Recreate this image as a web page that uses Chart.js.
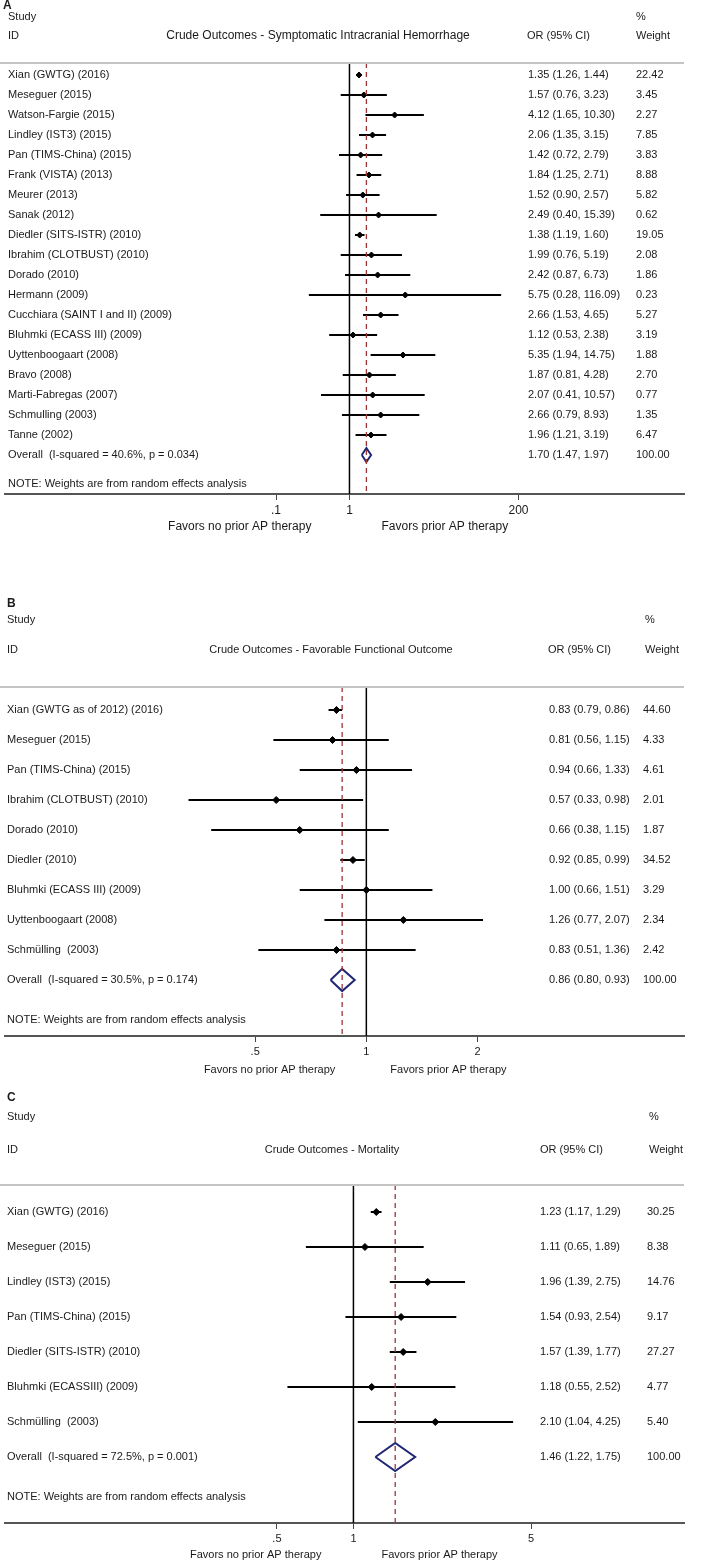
<!DOCTYPE html>
<html>
<head>
<meta charset="utf-8">
<script src="https://cdn.jsdelivr.net/npm/chart.js@4.4.1/dist/chart.umd.min.js"></script>
<style>
  body { margin: 0; background: #fff; }
  #wrap { position: relative; width: 709px; height: 1560px; }
  canvas { position: absolute; left: 0; }
</style>
</head>
<body>
<div id="wrap">
  <canvas id="chartA" width="709" height="590" style="top:0px"></canvas>
  <canvas id="chartB" width="709" height="490" style="top:590px"></canvas>
  <canvas id="chartC" width="709" height="480" style="top:1080px"></canvas>
</div>
<script>
// ---- panel A: symptomatic intracranial hemorrhage
const studiesA = ['Xian (GWTG) (2016)', 'Meseguer (2015)', 'Watson-Fargie (2015)', 'Lindley (IST3) (2015)',
  'Pan (TIMS-China) (2015)', 'Frank (VISTA) (2013)', 'Meurer (2013)', 'Sanak (2012)', 'Diedler (SITS-ISTR) (2010)',
  'Ibrahim (CLOTBUST) (2010)', 'Dorado (2010)', 'Hermann (2009)', 'Cucchiara (SAINT I and II) (2009)',
  'Bluhmki (ECASS III) (2009)', 'Uyttenboogaart (2008)', 'Bravo (2008)', 'Marti-Fabregas (2007)',
  'Schmulling (2003)', 'Tanne (2002)'];
const orA = [1.35, 1.57, 4.12, 2.06, 1.42, 1.84, 1.52, 2.49, 1.38, 1.99, 2.42, 5.75, 2.66, 1.12, 5.35, 1.87, 2.07, 2.66, 1.96];
const lowA = [1.26, 0.76, 1.65, 1.35, 0.72, 1.25, 0.90, 0.40, 1.19, 0.76, 0.87, 0.28, 1.53, 0.53, 1.94, 0.81, 0.41, 0.79, 1.21];
const highA = [1.44, 3.23, 10.30, 3.15, 2.79, 2.71, 2.57, 15.39, 1.60, 5.19, 6.73, 116.09, 4.65, 2.38, 14.75, 4.28, 10.57, 8.93, 3.19];
const weightA = [22.42, 3.45, 2.27, 7.85, 3.83, 8.88, 5.82, 0.62, 19.05, 2.08, 1.86, 0.23, 5.27, 3.19, 1.88, 2.70, 0.77, 1.35, 6.47];
const overallA = [1.70, 1.47, 1.97];
const overallLabelA = 'Overall  (I-squared = 40.6%, p = 0.034)';
const ticksA = [0.1, 1, 200];
const tickLabelsA = ['.1', '1', '200'];

// ---- panel B: favorable functional outcome
const studiesB = ['Xian (GWTG as of 2012) (2016)', 'Meseguer (2015)', 'Pan (TIMS-China) (2015)', 'Ibrahim (CLOTBUST) (2010)',
  'Dorado (2010)', 'Diedler (2010)', 'Bluhmki (ECASS III) (2009)', 'Uyttenboogaart (2008)', 'Schmülling  (2003)'];
const orB = [0.83, 0.81, 0.94, 0.57, 0.66, 0.92, 1.00, 1.26, 0.83];
const lowB = [0.79, 0.56, 0.66, 0.33, 0.38, 0.85, 0.66, 0.77, 0.51];
const highB = [0.86, 1.15, 1.33, 0.98, 1.15, 0.99, 1.51, 2.07, 1.36];
const weightB = [44.60, 4.33, 4.61, 2.01, 1.87, 34.52, 3.29, 2.34, 2.42];
const overallB = [0.86, 0.80, 0.93];
const overallLabelB = 'Overall  (I-squared = 30.5%, p = 0.174)';
const ticksB = [0.5, 1, 2];
const tickLabelsB = ['.5', '1', '2'];

// ---- panel C: mortality
const studiesC = ['Xian (GWTG) (2016)', 'Meseguer (2015)', 'Lindley (IST3) (2015)', 'Pan (TIMS-China) (2015)',
  'Diedler (SITS-ISTR) (2010)', 'Bluhmki (ECASSIII) (2009)', 'Schmülling  (2003)'];
const orC = [1.23, 1.11, 1.96, 1.54, 1.57, 1.18, 2.10];
const lowC = [1.17, 0.65, 1.39, 0.93, 1.39, 0.55, 1.04];
const highC = [1.29, 1.89, 2.75, 2.54, 1.77, 2.52, 4.25];
const weightC = [30.25, 8.38, 14.76, 9.17, 27.27, 4.77, 5.40];
const overallC = [1.46, 1.22, 1.75];
const overallLabelC = 'Overall  (I-squared = 72.5%, p = 0.001)';
const ticksC = [0.5, 1, 5];
const tickLabelsC = ['.5', '1', '5'];

const FONT = "'Liberation Sans', Arial, sans-serif";
const INK = '#1a1a1a';
const note = 'NOTE: Weights are from random effects analysis';

function ciText(o, l, h) {
  return o.toFixed(2) + ' (' + l.toFixed(2) + ', ' + h.toFixed(2) + ')';
}

function forestPanel(id, p) {
  const n = p.studies.length;
  const datasets = [];

  // null line at OR = 1
  datasets.push({ data: [{x: 1, y: p.yMin}, {x: 1, y: p.yMax}], showLine: true,
    borderColor: '#000', borderWidth: 1.5, pointRadius: 0 });
  // overall estimate, dashed
  datasets.push({ data: [{x: p.overall[0], y: p.yMin}, {x: p.overall[0], y: p.yMax}], showLine: true,
    borderColor: '#9b3535', borderWidth: 1.3, borderDash: [5, 4], pointRadius: 0 });
  // confidence intervals
  p.low.forEach(function(lo, i) {
    datasets.push({ data: [{x: lo, y: i}, {x: p.high[i], y: i}], showLine: true,
      borderColor: '#000', borderWidth: 2, pointRadius: 0 });
  });
  // point estimates
  datasets.push({ data: p.or.map((v, i) => ({x: v, y: i})), pointStyle: 'rectRot',
    pointRadius: p.dot, backgroundColor: '#000', borderColor: '#000', borderWidth: 1 });
  // pooled diamond
  const h = p.dh;
  datasets.push({ data: [{x: p.overall[1], y: n}, {x: p.overall[0], y: n - h}, {x: p.overall[2], y: n},
      {x: p.overall[0], y: n + h}, {x: p.overall[1], y: n}],
    showLine: true, borderColor: '#1f2675', borderWidth: 2, borderJoinStyle: 'miter', pointRadius: 0, fill: false });

  const textPlugin = {
    id: 'forestText' + id,
    afterDraw(chart) {
      const ctx = chart.ctx;
      const xs = chart.scales.x, ys = chart.scales.y;
      const area = chart.chartArea;
      ctx.save();
      // header rule
      ctx.strokeStyle = '#c4c4c4';
      ctx.lineWidth = 2;
      ctx.beginPath();
      ctx.moveTo(0, area.top);
      ctx.lineTo(area.right, area.top);
      ctx.stroke();

      ctx.fillStyle = INK;
      ctx.textBaseline = 'middle';
      ctx.textAlign = 'left';
      ctx.font = 'bold 12px ' + FONT;
      ctx.fillText(p.letter, p.letterX, p.letterY);

      ctx.font = '11px ' + FONT;
      ctx.fillText('Study', p.colX, p.studyY);
      ctx.fillText('ID', p.colX, p.idY);
      ctx.fillText('OR (95% CI)', p.orHX, p.idY);
      ctx.fillText('%', p.wHX, p.studyY);
      ctx.fillText('Weight', p.wHX, p.idY);
      ctx.font = p.titleSize + 'px ' + FONT;
      ctx.textAlign = 'center';
      ctx.fillText(p.title, p.titleX, p.idY);

      ctx.textAlign = 'left';
      ctx.font = '11px ' + FONT;
      p.studies.forEach(function(s, i) {
        const y = ys.getPixelForValue(i);
        ctx.fillText(s, p.colX, y);
        ctx.fillText(ciText(p.or[i], p.low[i], p.high[i]), p.orX, y);
        ctx.fillText(p.weight[i].toFixed(2), p.wX, y);
      });
      const yo = ys.getPixelForValue(n);
      ctx.fillText(p.overallLabel, p.colX, yo);
      ctx.fillText(ciText(p.overall[0], p.overall[1], p.overall[2]), p.orX, yo);
      ctx.fillText('100.00', p.wX, yo);
      ctx.fillText(note, p.colX, ys.getPixelForValue(p.noteRow));

      // favours labels under the axis
      const x1 = xs.getPixelForValue(1);
      ctx.font = p.favSize + 'px ' + FONT;
      ctx.textAlign = 'right';
      ctx.fillText('Favors no prior AP therapy', x1 - p.gapL, p.favY);
      ctx.textAlign = 'left';
      ctx.fillText('Favors prior AP therapy', x1 + p.gapR, p.favY);
      ctx.restore();
    }
  };

  return new Chart(document.getElementById(id), {
    type: 'scatter',
    data: { datasets: datasets },
    options: {
      responsive: false,
      animation: false,
      devicePixelRatio: 1,
      events: [],
      layout: { padding: { top: p.top, bottom: p.bottom, left: 0, right: 25 } },
      plugins: { legend: { display: false }, tooltip: { enabled: false } },
      scales: {
        x: {
          type: 'logarithmic',
          min: p.xMin,
          max: p.xMax,
          bounds: 'data',
          afterBuildTicks: function(scale) { scale.ticks = p.ticks.map(v => ({ value: v })); },
          afterFit: function(scale) { scale.height = 20; },
          ticks: {
            autoSkip: false, maxRotation: 0, padding: 3, color: INK,
            font: { family: FONT, size: p.favSize },
            callback: function(v, i) { return p.tickLabels[i]; }
          },
          grid: { display: true, drawOnChartArea: false, drawTicks: true, tickLength: 6, color: '#444', lineWidth: 1 },
          border: { display: true, color: '#555', width: 2 }
        },
        y: { type: 'linear', reverse: true, min: p.yMin, max: p.yMax, display: false }
      }
    },
    plugins: [textPlugin]
  });
}

// x range: chart area is 684 px wide, "1" placed at x1 with given px per decade
function logRange(x1, perDecade) {
  return [Math.pow(10, -x1 / perDecade), Math.pow(10, (684 - x1) / perDecade)];
}

const rA = logRange(347, 74);
forestPanel('chartA', {
  studies: studiesA, or: orA, low: lowA, high: highA, weight: weightA,
  overall: overallA, overallLabel: overallLabelA, ticks: ticksA, tickLabels: tickLabelsA,
  title: 'Crude Outcomes - Symptomatic Intracranial Hemorrhage', titleSize: 12, titleX: 318,
  letter: 'A', letterX: 3, letterY: 6, studyY: 17, idY: 36, colX: 8,
  orHX: 527, wHX: 636, orX: 528, wX: 636,
  xMin: rA[0], xMax: rA[1], yMin: -0.6, yMax: 20.95, noteRow: 20.45,
  top: 63, bottom: 76, dot: 3, dh: 0.35,
  favSize: 12, favY: 527, gapL: 38, gapR: 32
});

const rB = logRange(364, 372);
forestPanel('chartB', {
  studies: studiesB, or: orB, low: lowB, high: highB, weight: weightB,
  overall: overallB, overallLabel: overallLabelB, ticks: ticksB, tickLabels: tickLabelsB,
  title: 'Crude Outcomes - Favorable Functional Outcome', titleSize: 11, titleX: 331,
  letter: 'B', letterX: 7, letterY: 14, studyY: 30, idY: 60, colX: 7,
  orHX: 548, wHX: 645, orX: 549, wX: 643,
  xMin: rB[0], xMax: rB[1], yMin: -0.767, yMax: 10.867, noteRow: 10.33,
  top: 97, bottom: 24, dot: 3.5, dh: 0.37,
  favSize: 11, favY: 480, gapL: 31, gapR: 24
});

const rC = logRange(351, 256);
forestPanel('chartC', {
  studies: studiesC, or: orC, low: lowC, high: highC, weight: weightC,
  overall: overallC, overallLabel: overallLabelC, ticks: ticksC, tickLabels: tickLabelsC,
  title: 'Crude Outcomes - Mortality', titleSize: 11, titleX: 332,
  letter: 'C', letterX: 7, letterY: 18, studyY: 37, idY: 70, colX: 7,
  orHX: 540, wHX: 649, orX: 540, wX: 647,
  xMin: rC[0], xMax: rC[1], yMin: -0.771, yMax: 8.886, noteRow: 8.14,
  top: 105, bottom: 17, dot: 3.5, dh: 0.4,
  favSize: 11, favY: 475, gapL: 32, gapR: 28
});
</script>
</body>
</html>
